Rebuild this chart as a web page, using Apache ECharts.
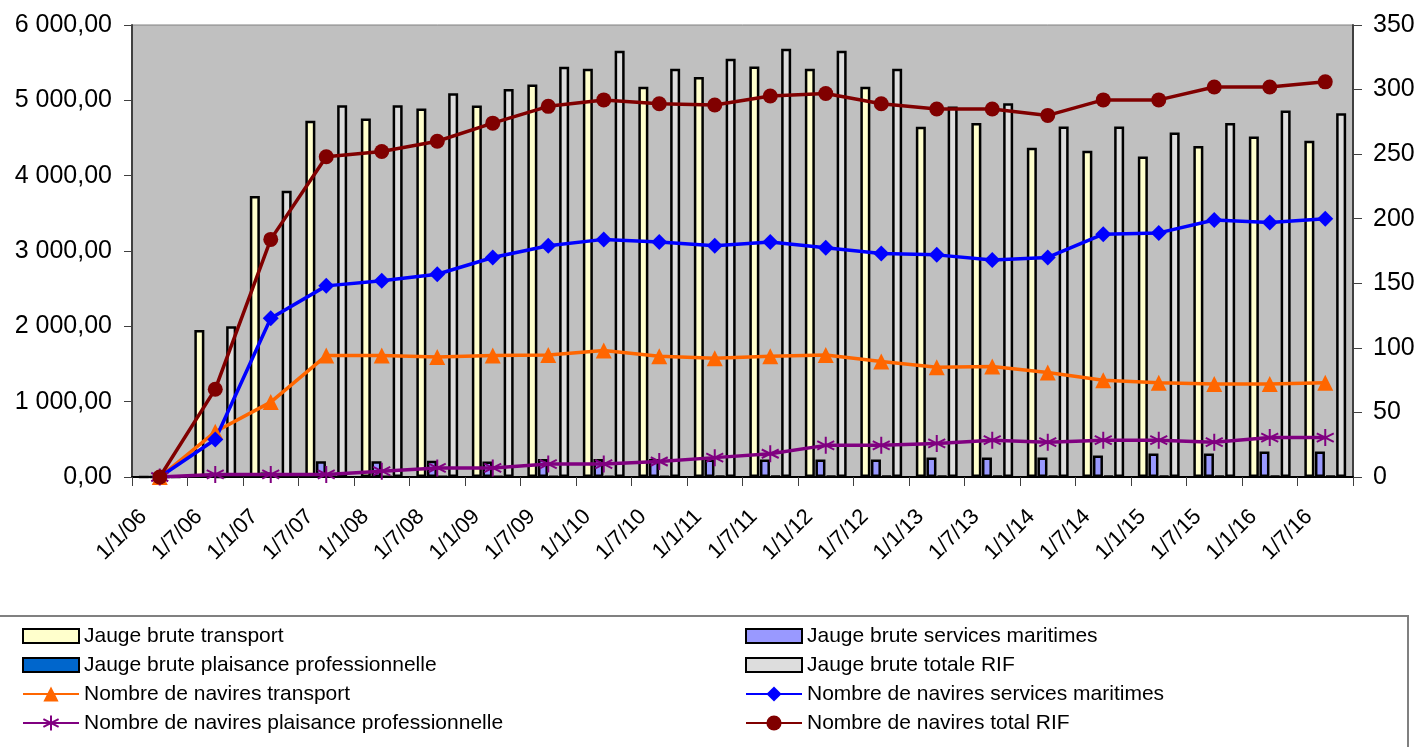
<!DOCTYPE html>
<html>
<head>
<meta charset="utf-8">
<script src="https://cdn.jsdelivr.net/npm/echarts@6/dist/echarts.min.js"></script>
<style>
html,body{margin:0;padding:0;background:#fff;}
#chart{width:1420px;height:747px;}
</style>
</head>
<body>
<div id="chart"></div>
<script>
const categories = ['1/1/06','1/7/06','1/1/07','1/7/07','1/1/08','1/7/08','1/1/09','1/7/09','1/1/10','1/7/10','1/1/11','1/7/11','1/1/12','1/7/12','1/1/13','1/7/13','1/1/14','1/7/14','1/1/15','1/7/15','1/1/16','1/7/16'];

const jaugeTransport = [0, 1950, 3730, 4730, 4760, 4890, 4930, 5210, 5420, 5180, 5310, 5450, 5420, 5180, 4650, 4700, 4370, 4330, 4255, 4395, 4520, 4465];
const jaugeServices = [0, 40, 60, 210, 210, 215, 206, 239, 239, 239, 232, 232, 232, 232, 258, 258, 258, 285, 312, 312, 338, 338];
const jaugePlaisance = [0, 0, 5, 5, 5, 5, 8, 8, 8, 8, 10, 10, 10, 10, 10, 10, 10, 10, 10, 10, 10, 10];
const jaugeTotal = [0, 2000, 3800, 4935, 4935, 5094, 5151, 5447, 5659, 5420, 5553, 5686, 5659, 5420, 4917, 4961, 4651, 4651, 4572, 4700, 4864, 4829];

const nbTransport = [0, 35, 58, 94, 94, 93, 94, 94.5, 98, 93.5, 92, 93.5, 94.5, 89.5, 85, 85.5, 81, 75, 73, 72, 72, 73];
const nbServices = [0, 29, 123, 148, 152, 157, 170, 179, 184, 182, 179, 182, 177.5, 173, 172, 168, 170, 188, 189, 199, 197, 200];
const nbPlaisance = [0, 2, 2, 2, 4.5, 7, 7, 10, 10, 12, 15, 18, 24.5, 24.5, 26, 28.5, 27, 28.5, 28.5, 27, 30.5, 30.5];
const nbTotal = [0, 68, 184, 248, 252, 260, 274, 287, 292, 289, 288, 295, 297, 289, 285, 285, 280, 292, 292, 302, 302, 306];

const leftTicks = {min: 0, max: 6000, interval: 1000};
const rightTicks = {min: 0, max: 350, interval: 50};

const FONT = "'Liberation Sans', Arial, sans-serif";
const names = [
  'Jauge brute transport',
  'Jauge brute services maritimes',
  'Jauge brute plaisance professionnelle',
  'Jauge brute totale RIF',
  'Nombre de navires transport',
  'Nombre de navires services maritimes',
  'Nombre de navires plaisance professionnelle',
  'Nombre de navires total RIF'
];

function fmtLeft(v){
  const s = Math.round(v).toString().replace(/\B(?=(\d{3})+(?!\d))/g, ' ');
  return s + ',00';
}

function barSeries(name, data, color){
  return {
    name: name, type: 'bar', data: data, yAxisIndex: 0,
    barWidth: 10, barGap: '6%',
    itemStyle: {color: color, borderColor: '#000', borderWidth: 2.5},
    emphasis: {disabled: true}, z: 2
  };
}
function lineSeries(name, data, color, symbol, size, extra){
  const s = {
    name: name, type: 'line', data: data, yAxisIndex: 1,
    symbol: symbol, symbolSize: size, showAllSymbol: true,
    lineStyle: {color: color, width: 3.5},
    itemStyle: {color: color},
    emphasis: {disabled: true}, z: 5
  };
  return Object.assign(s, extra || {});
}

const star = 'path://M10 0 L10 20 M1.3 5 L18.7 15 M1.3 15 L18.7 5';

const legendText = {fontSize: 21, lineHeight: 28, color: '#000', fontFamily: FONT};
const ROW = 29, LTOP = 622;
function legendBlock(left, top, items, isBar){
  return {
    orient: 'vertical', left: left, top: top, padding: 0,
    itemWidth: 56, itemHeight: isBar ? 14 : 19, itemGap: ROW - 28,
    data: items.map(i => isBar ? {name: names[i], icon: 'rect'} : {name: names[i]}),
    textStyle: legendText
  };
}

const chart = echarts.init(document.getElementById('chart'), null, {renderer: 'canvas'});
chart.setOption({
  animation: false,
  textStyle: {fontFamily: FONT},
  graphic: [{
    type: 'rect', z: 0,
    shape: {x: -2, y: 616, width: 1410, height: 150},
    style: {fill: '#fff', stroke: '#808080', lineWidth: 2}
  }],
  grid: {left: 132, right: 67, top: 25, bottom: 270, show: true, backgroundColor: '#C0C0C0', borderColor: '#808080', borderWidth: 1},
  legend: [
    legendBlock(22, LTOP, [0, 2], true),
    legendBlock(22, LTOP + 2 * ROW, [4, 6], false),
    legendBlock(745, LTOP, [1, 3], true),
    legendBlock(745, LTOP + 2 * ROW, [5, 7], false)
  ],
  xAxis: {
    type: 'category', data: categories, boundaryGap: true,
    axisLine: {lineStyle: {color: '#000', width: 2}},
    axisTick: {show: true, length: 9, lineStyle: {color: '#404040', width: 1}},
    axisLabel: {rotate: 45, interval: 0, fontSize: 22, color: '#000', margin: 20, padding: [0, 23, 0, 0], fontFamily: FONT},
    splitLine: {show: false}
  },
  yAxis: [{
    type: 'value', position: 'left', min: leftTicks.min, max: leftTicks.max, interval: leftTicks.interval,
    axisLine: {show: true, lineStyle: {color: '#404040', width: 2}},
    axisTick: {show: true, length: 8, lineStyle: {color: '#404040'}},
    axisLabel: {formatter: fmtLeft, fontSize: 25, color: '#000', margin: 20, fontFamily: FONT},
    splitLine: {show: false}
  }, {
    type: 'value', position: 'right', min: rightTicks.min, max: rightTicks.max, interval: rightTicks.interval,
    axisLine: {show: true, lineStyle: {color: '#404040', width: 2}},
    axisTick: {show: true, length: 9, lineStyle: {color: '#404040'}},
    axisLabel: {fontSize: 25, color: '#000', margin: 20, fontFamily: FONT},
    splitLine: {show: false}
  }],
  series: [
    barSeries(names[0], jaugeTransport, '#FFFFCC'),
    barSeries(names[1], jaugeServices, '#9999FF'),
    barSeries(names[2], jaugePlaisance, '#0066CC'),
    barSeries(names[3], jaugeTotal, '#DDDDDD'),
    lineSeries(names[4], nbTransport, '#FF6600', 'triangle', 16),
    lineSeries(names[5], nbServices, '#0000FF', 'diamond', 16),
    lineSeries(names[6], nbPlaisance, '#800080', star, 17, {itemStyle: {color: '#800080', borderColor: '#800080', borderWidth: 2}}),
    lineSeries(names[7], nbTotal, '#800000', 'circle', 15)
  ]
});
</script>
</body>
</html>
